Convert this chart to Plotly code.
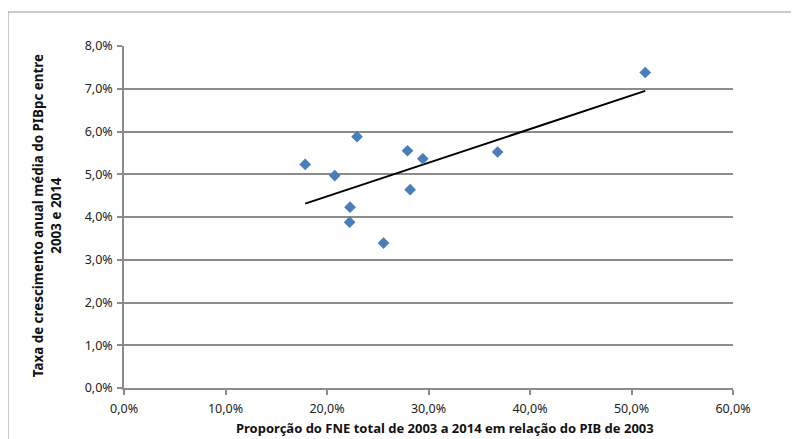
import numpy as np
import plotly.graph_objects as go

# FNE share of 2003 GDP (x) vs avg annual GDPpc growth 2003-2014 (y)
fne_share = [0.1785, 0.2076, 0.2296, 0.2227, 0.2223, 0.2557, 0.2793, 0.2819, 0.2944, 0.3681, 0.5135]
gdp_growth = [0.0523, 0.0497, 0.0588, 0.0423, 0.0388, 0.0339, 0.0555, 0.0464, 0.0536, 0.0552, 0.0738]

x_ticks = [0, 0.1, 0.2, 0.3, 0.4, 0.5, 0.6]
y_ticks = [0, 0.01, 0.02, 0.03, 0.04, 0.05, 0.06, 0.07, 0.08]

# linear trendline (least squares, like Excel's)
slope, intercept = np.polyfit(fne_share, gdp_growth, 1)
trend_x = [min(fne_share), max(fne_share)]
trend_y = [slope * v + intercept for v in trend_x]

FONT = "Noto Sans"
GRID = "#8c8c8c"

fig = go.Figure()
fig.add_trace(go.Scatter(
    x=trend_x, y=trend_y, mode="lines",
    line=dict(color="black", width=2), hoverinfo="skip",
))
fig.add_trace(go.Scatter(
    x=fne_share, y=gdp_growth, mode="markers",
    marker=dict(symbol="diamond", size=9, color="#4a7ebb"),
))

# page body adds an 8px offset, so the figure is 8px smaller than the window
fig.update_layout(
    width=791, height=431,
    margin=dict(l=116, r=66, t=38, b=51),
    paper_bgcolor="white", plot_bgcolor="white",
    separators=",.",
    showlegend=False,
    font=dict(family=FONT, size=12.5, color="#222"),
    xaxis=dict(
        range=[0, 0.6], tickvals=x_ticks, tickformat=".1%",
        showgrid=False, zeroline=False,
        showline=True, linecolor=GRID, linewidth=1.5,
        ticks="outside", ticklen=5, tickcolor=GRID, tickwidth=1.5,
        ticklabelstandoff=3,
    ),
    yaxis=dict(
        range=[0, 0.08], tickvals=y_ticks, tickformat=".1%",
        showgrid=True, gridcolor=GRID, gridwidth=1.5, zeroline=False,
        showline=True, linecolor=GRID, linewidth=1.5,
        ticks="outside", ticklen=5, tickcolor=GRID, tickwidth=1.5,
        ticklabelstandoff=2,
    ),
    annotations=[
        dict(
            text="<b>Proporção do FNE total de 2003 a 2014 em relação do PIB de 2003</b>",
            xref="paper", yref="paper", x=0.527, y=0, yshift=-40,
            xanchor="center", yanchor="middle", showarrow=False,
            font=dict(family=FONT, size=13, color="#111"),
        ),
        dict(
            text="<b>Taxa de crescimento anual média do PIBpc entre<br>2003 e 2014</b>",
            xref="paper", yref="paper", x=-0.126, y=0.503,
            xanchor="center", yanchor="middle", textangle=-90, showarrow=False,
            font=dict(family=FONT, size=13.4, color="#111"),
        ),
    ],
    shapes=[
        dict(type="rect", xref="paper", yref="paper",
             x0=-116 / 609, y0=-60 / 342, x1=1.2, y1=1 + 34 / 342,
             line=dict(color="#9a9a9a", width=1)),
    ],
)

fig.write_html("out.html")
